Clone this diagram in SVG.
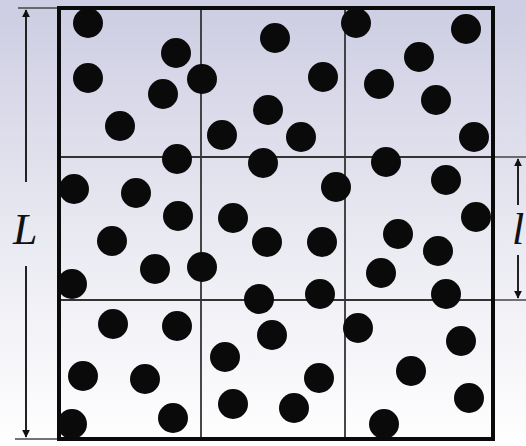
<svg xmlns="http://www.w3.org/2000/svg" width="526" height="446" viewBox="0 0 526 446">
  <defs>
    <linearGradient id="bg" x1="0" y1="0" x2="0" y2="1">
      <stop offset="0" stop-color="#cdcde3"/>
      <stop offset="0.5" stop-color="#e8e8f1"/>
      <stop offset="1" stop-color="#ffffff"/>
    </linearGradient>
    <marker id="ah" viewBox="0 0 10 10" refX="9" refY="5" markerWidth="4" markerHeight="5" orient="auto" markerUnits="strokeWidth">
      <path d="M0,0 L10,5 L0,10 z" fill="#111"/>
    </marker>
    <style>
      .frame { fill: none; stroke: #0a0a0a; stroke-width: 4; }
      .grid { stroke: #333; stroke-width: 1.8; fill: none; }
      .tick { stroke: #444; stroke-width: 1.5; }
      .dim { stroke: #222; stroke-width: 2; marker-end: url(#ah); }
      .dot { fill: #0a0a0a; }
      .lbl { font-family: "Liberation Serif", "Times New Roman", serif; font-style: italic; font-size: 44px; fill: #111; }
    </style>
  </defs>
  <rect x="0" y="0" width="526" height="446" fill="url(#bg)"/>

  <g id="connectors">
    <line class="tick" x1="18" y1="8" x2="59" y2="8"/>
    <line class="tick" x1="15" y1="439" x2="59" y2="439"/>
    <line class="dim" x1="26" y1="182" x2="26" y2="10"/>
    <line class="dim" x1="26" y1="266" x2="26" y2="437"/>
    <line class="tick" x1="493" y1="157" x2="526" y2="157"/>
    <line class="tick" x1="493" y1="300" x2="526" y2="300"/>
    <line class="dim" x1="518" y1="205" x2="518" y2="159"/>
    <line class="dim" x1="518" y1="255" x2="518" y2="298"/>
  </g>

  <g id="grid">
    <line class="grid" x1="201" y1="8" x2="201" y2="439"/>
    <line class="grid" x1="345" y1="8" x2="345" y2="439"/>
    <line class="grid" x1="59" y1="157" x2="493" y2="157"/>
    <line class="grid" x1="59" y1="300" x2="493" y2="300"/>
    <rect class="frame" x="59" y="8" width="434" height="431"/>
  </g>

  <g id="particles">
    <circle class="dot" cx="88" cy="23" r="15"/>
    <circle class="dot" cx="176" cy="53" r="15"/>
    <circle class="dot" cx="88" cy="78" r="15"/>
    <circle class="dot" cx="163" cy="94" r="15"/>
    <circle class="dot" cx="202" cy="79" r="15"/>
    <circle class="dot" cx="120" cy="126" r="15"/>
    <circle class="dot" cx="222" cy="135" r="15"/>
    <circle class="dot" cx="275" cy="38" r="15"/>
    <circle class="dot" cx="356" cy="23" r="15"/>
    <circle class="dot" cx="323" cy="77" r="15"/>
    <circle class="dot" cx="268" cy="110" r="15"/>
    <circle class="dot" cx="301" cy="137" r="15"/>
    <circle class="dot" cx="466" cy="29" r="15"/>
    <circle class="dot" cx="419" cy="57" r="15"/>
    <circle class="dot" cx="379" cy="84" r="15"/>
    <circle class="dot" cx="436" cy="100" r="15"/>
    <circle class="dot" cx="474" cy="137" r="15"/>
    <circle class="dot" cx="177" cy="159" r="15"/>
    <circle class="dot" cx="263" cy="163" r="15"/>
    <circle class="dot" cx="386" cy="162" r="15"/>
    <circle class="dot" cx="74" cy="189" r="15"/>
    <circle class="dot" cx="136" cy="193" r="15"/>
    <circle class="dot" cx="178" cy="216" r="15"/>
    <circle class="dot" cx="233" cy="218" r="15"/>
    <circle class="dot" cx="336" cy="187" r="15"/>
    <circle class="dot" cx="446" cy="180" r="15"/>
    <circle class="dot" cx="476" cy="217" r="15"/>
    <circle class="dot" cx="112" cy="241" r="15"/>
    <circle class="dot" cx="267" cy="242" r="15"/>
    <circle class="dot" cx="322" cy="242" r="15"/>
    <circle class="dot" cx="398" cy="234" r="15"/>
    <circle class="dot" cx="438" cy="251" r="15"/>
    <circle class="dot" cx="155" cy="269" r="15"/>
    <circle class="dot" cx="202" cy="267" r="15"/>
    <circle class="dot" cx="381" cy="273" r="15"/>
    <circle class="dot" cx="72" cy="284" r="15"/>
    <circle class="dot" cx="259" cy="299" r="15"/>
    <circle class="dot" cx="320" cy="294" r="15"/>
    <circle class="dot" cx="446" cy="294" r="15"/>
    <circle class="dot" cx="113" cy="324" r="15"/>
    <circle class="dot" cx="177" cy="326" r="15"/>
    <circle class="dot" cx="272" cy="335" r="15"/>
    <circle class="dot" cx="358" cy="328" r="15"/>
    <circle class="dot" cx="461" cy="341" r="15"/>
    <circle class="dot" cx="225" cy="357" r="15"/>
    <circle class="dot" cx="83" cy="376" r="15"/>
    <circle class="dot" cx="145" cy="379" r="15"/>
    <circle class="dot" cx="319" cy="378" r="15"/>
    <circle class="dot" cx="411" cy="371" r="15"/>
    <circle class="dot" cx="233" cy="404" r="15"/>
    <circle class="dot" cx="294" cy="408" r="15"/>
    <circle class="dot" cx="469" cy="398" r="15"/>
    <circle class="dot" cx="173" cy="418" r="15"/>
    <circle class="dot" cx="72" cy="424" r="15"/>
    <circle class="dot" cx="384" cy="424" r="15"/>
  </g>

  <g id="labels">
    <text class="lbl" x="13" y="244">L</text>
    <text class="lbl" x="512" y="244">l</text>
  </g>
</svg>
